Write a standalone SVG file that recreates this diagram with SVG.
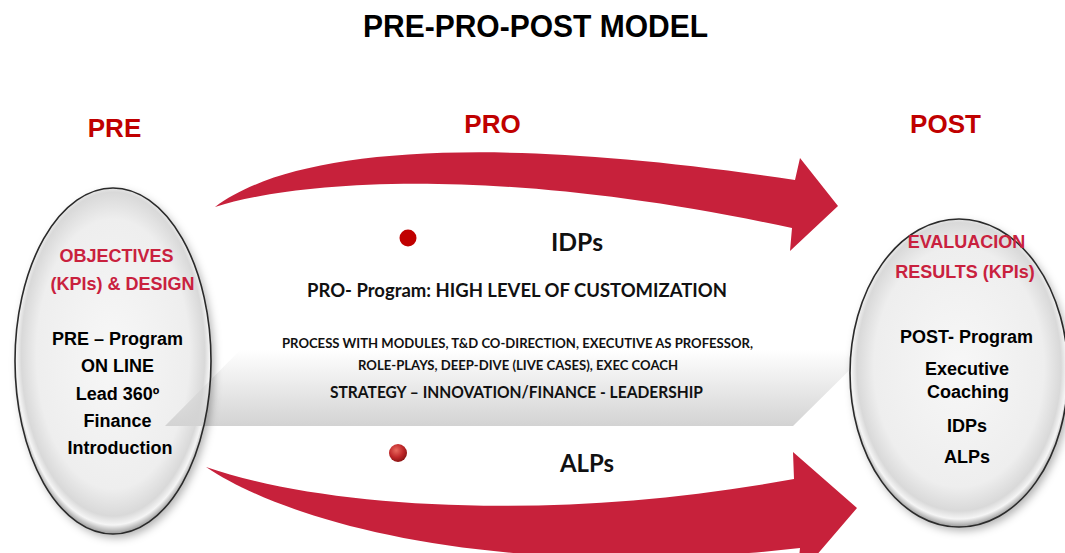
<svg xmlns="http://www.w3.org/2000/svg" xmlns:xlink="http://www.w3.org/1999/xlink" width="1065" height="553" viewBox="0 0 1065 553">
<style>
.title{font-family:"Liberation Sans",Arial,sans-serif;font-weight:bold;font-size:32px;fill:#000;text-anchor:middle}
.phase{font-family:"Liberation Sans",Arial,sans-serif;font-weight:bold;font-size:26px;fill:#c00000;text-anchor:middle}
.red{font-family:"Liberation Sans",Arial,sans-serif;font-weight:bold;font-size:18px;fill:#c9213e;text-anchor:middle}
.blk{font-family:"Liberation Sans",Arial,sans-serif;font-weight:bold;font-size:18px;fill:#000;text-anchor:middle}
.mid{font-family:Lato,"Open Sans",sans-serif;font-weight:bold;fill:#111;text-anchor:middle}
.arrow{fill:#c7213b}
.bubble{fill:url(#bubbleGrad);filter:url(#shadow)}
.outline{fill:none;stroke:#2a2a2a;stroke-width:1.6}
</style>
<defs>
<radialGradient id="bubbleGrad" cx="50%" cy="48%" r="52%">
<stop offset="0" stop-color="#f7f7f7"/>
<stop offset="0.75" stop-color="#eeeeee"/>
<stop offset="0.9" stop-color="#d9d9d9"/>
<stop offset="0.95" stop-color="#f5f5f5"/>
<stop offset="1" stop-color="#999999"/>
</radialGradient>
<radialGradient id="dotGrad" cx="40%" cy="35%" r="65%">
<stop offset="0" stop-color="#e86a5e"/>
<stop offset="0.6" stop-color="#c0282a"/>
<stop offset="1" stop-color="#8e1515"/>
</radialGradient>
<linearGradient id="chevGrad" x1="0" y1="0" x2="0" y2="1">
<stop offset="0" stop-color="#d3d3d3" stop-opacity="0"/>
<stop offset="0.58" stop-color="#d3d3d3" stop-opacity="0"/>
<stop offset="1" stop-color="#d3d3d3" stop-opacity="1"/>
</linearGradient>
<filter id="shadow" x="-20%" y="-20%" width="140%" height="140%">
<feDropShadow dx="3" dy="4" stdDeviation="4" flood-color="#000" flood-opacity="0.3"/>
</filter>
<polygon id="chevron" points="165,426 255,335 165,244 793,244 885,335 793,426" fill="url(#chevGrad)"/>
<clipPath id="preClip"><ellipse cx="113" cy="361" rx="98" ry="173"/></clipPath>
</defs>
<rect width="1065" height="553" fill="#fff"/>

<g id="title"><text class="title" x="535.5" y="37" textLength="345" lengthAdjust="spacingAndGlyphs">PRE-PRO-POST MODEL</text></g>
<g id="phase-labels">
<text class="phase" x="114.5" y="137">PRE</text>
<text class="phase" x="492.5" y="133">PRO</text>
<text class="phase" x="945.5" y="133">POST</text>
</g>

<g id="node-pro">
<use xlink:href="#chevron"/>
<circle cx="408" cy="238" r="8.5" fill="#c00000"/>
<text class="mid" x="577" y="251" font-size="24" textLength="52" lengthAdjust="spacingAndGlyphs">IDPs</text>
<text class="mid" x="517" y="297" font-size="19" textLength="420" lengthAdjust="spacingAndGlyphs">PRO- Program: HIGH LEVEL OF CUSTOMIZATION</text>
<text class="mid" x="517.5" y="348" font-size="13" textLength="471" lengthAdjust="spacingAndGlyphs">PROCESS WITH MODULES, T&amp;D CO-DIRECTION, EXECUTIVE AS PROFESSOR,</text>
<text class="mid" x="518" y="370" font-size="13" textLength="320" lengthAdjust="spacingAndGlyphs">ROLE-PLAYS, DEEP-DIVE (LIVE CASES), EXEC COACH</text>
<text class="mid" x="516.5" y="398" font-size="17" textLength="373" lengthAdjust="spacingAndGlyphs">STRATEGY – INNOVATION/FINANCE - LEADERSHIP</text>
<circle cx="398" cy="453" r="9" fill="url(#dotGrad)"/>
<text class="mid" x="587" y="472" font-size="24" textLength="54" lengthAdjust="spacingAndGlyphs">ALPs</text>
</g>

<g id="connectors">
<path class="arrow" d="M215,207 C290,150 480,132 795,180 L800,158 L838,206 L790,251 L792,228 C500,165 300,180 215,207 Z"/>
<path class="arrow" d="M206,467 C300,530 520,580 800,548 L797,578 L857,508 L793,452 L794,479 C560,522 330,510 206,467 Z"/>
</g>

<g id="node-pre">
<ellipse class="bubble" cx="113" cy="361" rx="98" ry="173"/>
<use xlink:href="#chevron" clip-path="url(#preClip)"/>
<ellipse class="outline" cx="113" cy="361" rx="98" ry="173"/>
<text class="red" x="116.5" y="262">OBJECTIVES</text>
<text class="red" x="122.5" y="290">(KPIs) &amp; DESIGN</text>
<text class="blk" x="117.5" y="345">PRE – Program</text>
<text class="blk" x="117.5" y="372">ON LINE</text>
<text class="blk" x="117.5" y="400">Lead 360º</text>
<text class="blk" x="117.5" y="427">Finance</text>
<text class="blk" x="120" y="454">Introduction</text>
</g>

<g id="node-post">
<ellipse class="bubble" cx="959" cy="373" rx="109" ry="154"/>
<ellipse class="outline" cx="959" cy="373" rx="109" ry="154"/>
<text class="red" x="966.5" y="248">EVALUACION</text>
<text class="red" x="965" y="278">RESULTS (KPIs)</text>
<text class="blk" x="966.5" y="343">POST- Program</text>
<text class="blk" x="967" y="375">Executive</text>
<text class="blk" x="968" y="398">Coaching</text>
<text class="blk" x="967" y="432">IDPs</text>
<text class="blk" x="967" y="463">ALPs</text>
</g>
</svg>
